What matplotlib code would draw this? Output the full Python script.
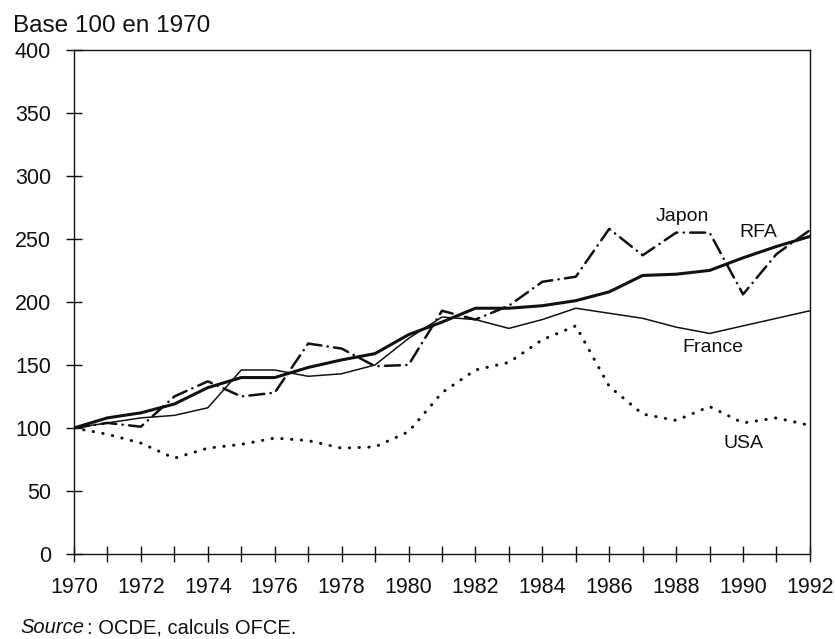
"""Indices base 100 en 1970 : RFA, Japon, France, USA (OCDE, calculs OFCE)."""

import matplotlib
matplotlib.use("Agg")
import matplotlib.pyplot as plt
from matplotlib import rcParams

INK = "#111111"

rcParams.update({
    "font.family": ["Liberation Sans", "DejaVu Sans"],
    "text.color": INK,
    "axes.edgecolor": INK,
    "xtick.color": INK,
    "ytick.color": INK,
})

# ---------- Data ----------
years = list(range(1970, 1993))
rfa = [100, 108, 112, 119, 132, 140, 140, 148, 154, 159, 174, 184,
       195, 195, 197, 201, 208, 221, 222, 225, 235, 244, 252]
japon = [100, 104, 101, 125, 137, 125, 128, 167, 163, 149, 150, 193,
         186, 197, 216, 220, 258, 237, 255, 255, 206, 238, 257]
france = [100, 104, 108, 110, 116, 146, 146, 141, 143, 150, 171, 188,
          186, 179, 186, 195, 191, 187, 180, 175, 181, 187, 193]
usa = [100, 95, 88, 76, 84, 87, 92, 90, 84, 85, 97, 128,
       146, 152, 170, 181, 133, 111, 106, 117, 104, 108, 102]

labels = ["Japon", "RFA", "France", "USA"]
label_x = [1988.2, 1990.45, 1989.1, 1990.0]
label_y = [268, 255, 164, 88]

yticks = list(range(0, 401, 50))

# ---------- Figure ----------
fig = plt.figure(figsize=(8.35, 6.39), dpi=100, facecolor="white")
ax = fig.add_axes([0.0886, 0.133, 0.8814, 0.789])

ax.plot(years, rfa, color=INK, lw=2.2, solid_joinstyle="round")
ax.plot(years, france, color=INK, lw=1.1)
ax.plot(years, japon, color=INK, lw=1.8, linestyle=(0, (6, 2.5, 0.1, 2.5)),
        dash_capstyle="round")
ax.plot(years, usa, color=INK, lw=2.2, linestyle=(0, (0.1, 3.1)),
        dash_capstyle="round")

for txt, x, y in zip(labels, label_x, label_y):
    ax.text(x, y, txt, fontsize=14, ha="center", va="center")

ax.set_xlim(1970, 1992)
ax.set_ylim(0, 400)

ax.set_xticks(years)
ax.set_xticklabels([str(y) if y % 2 == 0 else "" for y in years])
ax.set_yticks(yticks)
ax.set_yticklabels([str(v) for v in yticks])
ax.tick_params(axis="both", direction="inout", length=11, width=1.0,
               labelsize=15.5)
ax.tick_params(axis="x", pad=11)
ax.tick_params(axis="y", pad=11)

for side in ["left", "bottom", "top", "right"]:
    ax.spines[side].set_linewidth(1.0)

fig.text(0.0156, 0.950, "Base 100 en 1970", fontsize=17.5,
         ha="left", va="baseline")
fig.text(0.024, 0.009, "Source", fontsize=14.5, style="italic",
         ha="left", va="baseline")
fig.text(0.104, 0.009, ": OCDE, calculs OFCE.", fontsize=14.5,
         ha="left", va="baseline")

plt.savefig("out.png", dpi=100, facecolor="white")
